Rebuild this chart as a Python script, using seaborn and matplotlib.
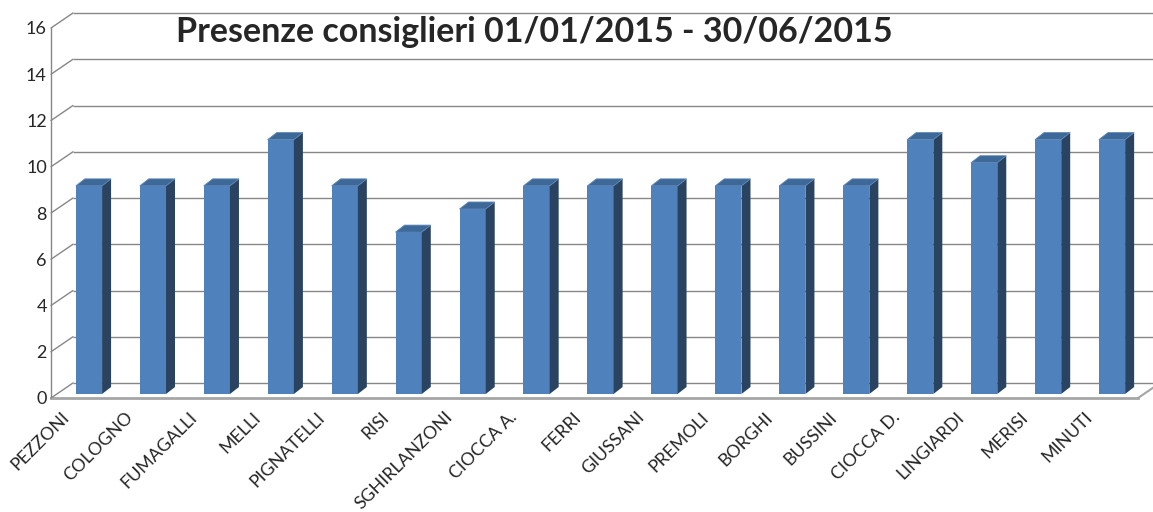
import numpy as np
import seaborn as sns
import matplotlib.pyplot as plt
from matplotlib.patches import Polygon
from matplotlib.transforms import ScaledTranslation

sns.set_style("white")
plt.rcParams['font.family'] = ['Lato', 'DejaVu Sans']

# data
consiglieri = ['PEZZONI', 'COLOGNO', 'FUMAGALLI', 'MELLI', 'PIGNATELLI', 'RISI',
               'SGHIRLANZONI', 'CIOCCA A.', 'FERRI', 'GIUSSANI', 'PREMOLI', 'BORGHI',
               'BUSSINI', 'CIOCCA D.', 'LINGIARDI', 'MERISI', 'MINUTI']
presenze = [9, 9, 9, 11, 9, 7, 8, 9, 9, 9, 9, 9, 9, 11, 10, 11, 11]
y_ticks = [0, 2, 4, 6, 8, 10, 12, 14, 16]
titolo = "Presenze consiglieri 01/01/2015 - 30/06/2015"

front_col = '#4F81BD'
side_col = '#2A4361'
top_col = '#3D6999'
grid_col = '#878787'

fig = plt.figure(figsize=(11.53, 5.12), dpi=100)
ax = fig.add_axes([51/1153, 114/512, 1087/1153, 370/512])

sns.barplot(x=consiglieri, y=presenze, color=front_col, saturation=1,
            width=0.41, ax=ax, zorder=3)
ax.set_xlim(-0.5, len(consiglieri) - 0.5)
ax.set_ylim(0, 16)
ax.set_yticks(y_ticks)

# back wall depth in pixels
wall_dx, wall_dy = 22, 15
back = ax.transData + ScaledTranslation(wall_dx/100, wall_dy/100, fig.dpi_scale_trans)
ax.hlines(y_ticks, -0.5, len(consiglieri) - 0.5 + 1, transform=back,
          color=grid_col, lw=1, zorder=1, clip_on=False)
# diagonals from the front axis to the back wall
for v in y_ticks:
    ax.annotate('', xy=(-0.5, v), xytext=(wall_dx, wall_dy), textcoords='offset pixels',
                arrowprops=dict(arrowstyle='-', shrinkA=0, shrinkB=0, color=grid_col, lw=1),
                annotation_clip=False)
ax.annotate('', xy=(len(consiglieri) - 0.5, 0), xytext=(wall_dx, wall_dy), textcoords='offset pixels',
            arrowprops=dict(arrowstyle='-', shrinkA=0, shrinkB=0, color='#A6A6A6', lw=1.5),
            annotation_clip=False)

for s in ['top', 'right']:
    ax.spines[s].set_visible(False)
ax.spines['left'].set_color(grid_col)
ax.spines['left'].set_linewidth(1)
ax.spines['bottom'].set_color('#A6A6A6')
ax.spines['bottom'].set_linewidth(2)

# 3d look for the bars
bx, by = 6, 4      # front face shift
sx, sy = 9, 7      # bar depth
fig.canvas.draw()
shift = ScaledTranslation(bx/100, by/100, fig.dpi_scale_trans)
for p in list(ax.patches):
    x0, w, h = p.get_x(), p.get_width(), p.get_height()
    p.set_transform(ax.transData + shift)
    p.set_edgecolor('none')
    (xl, yb), (xr, yt) = ax.transData.transform([(x0, 0), (x0 + w, h)])
    xl, xr, yb, yt = xl + bx, xr + bx, yb + by, yt + by
    side = Polygon([(xr, yb), (xr, yt), (xr + sx, yt + sy), (xr + sx, yb + sy)],
                   closed=True, transform=None, facecolor=side_col, edgecolor='none', zorder=3)
    top = Polygon([(xl, yt), (xr, yt), (xr + sx, yt + sy), (xl + sx, yt + sy)],
                  closed=True, transform=None, facecolor=top_col, edgecolor='#5B84B5', lw=0.6, zorder=3)
    fig.add_artist(side)
    fig.add_artist(top)

ax.tick_params(axis='y', length=0, pad=3, labelsize=13)
ax.tick_params(axis='x', length=0, pad=8, labelsize=12.8)
ax.set_xticks(range(len(consiglieri)))
ax.set_xticklabels(consiglieri, rotation=45, ha='right', rotation_mode='anchor')
for lbl in ax.get_xticklabels():
    lbl.set_transform(lbl.get_transform() + ScaledTranslation(-0.22, 0, fig.dpi_scale_trans))

fig.text(534/1153, 1 - 32/512, titolo, ha='center', va='center',
         fontsize=24.5, fontweight='bold')

plt.savefig('out.png', dpi=100)
